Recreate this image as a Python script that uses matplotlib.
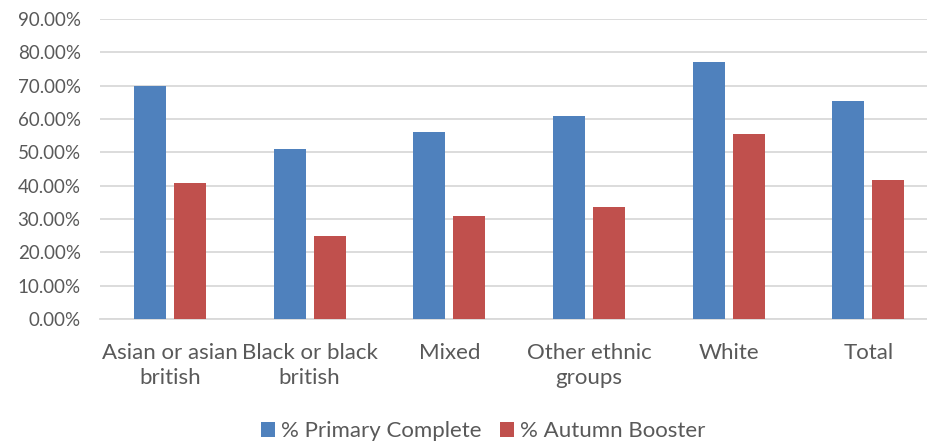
import numpy as np
import matplotlib.pyplot as plt
from matplotlib.ticker import PercentFormatter

categories = ['Asian or asian\nbritish', 'Black or black\nbritish', 'Mixed',
              'Other ethnic\ngroups', 'White', 'Total']
primary_complete = [69.8, 50.9, 56.0, 60.8, 77.0, 65.3]
autumn_booster = [40.7, 24.8, 30.8, 33.5, 55.4, 41.6]

plt.rcParams['font.family'] = ['Lato', 'DejaVu Sans']

fig = plt.figure(figsize=(9.27, 4.42), dpi=100)
ax = fig.add_axes([0.108, 0.278, 0.904, 0.679])

x = np.arange(len(categories))
width = 0.229
offset = 0.143
ax.bar(x - offset, primary_complete, width, color='#4F81BD', label='% Primary Complete', zorder=3)
ax.bar(x + offset, autumn_booster, width, color='#C0504D', label='% Autumn Booster', zorder=3)

ax.set_xlim(-0.5, len(categories) - 0.5)
ax.set_ylim(0, 90)
ax.set_yticks(np.arange(0, 91, 10))
ax.yaxis.set_major_formatter(PercentFormatter(decimals=2))
ax.set_xticks(x)
ax.set_xticklabels(categories, fontsize=16, linespacing=1.3)

ax.grid(axis='y', color='#d9d9d9', linewidth=1.3, zorder=0)
for side in ['left', 'right', 'top']:
    ax.spines[side].set_visible(False)
ax.spines['bottom'].set_color('#d9d9d9')
ax.spines['bottom'].set_linewidth(1.3)
ax.tick_params(axis='both', length=0, colors='#595959')
ax.tick_params(axis='x', pad=17)
ax.tick_params(axis='y', pad=14, labelsize=13.5)

fig.legend(loc='center', bbox_to_anchor=(0.521, 0.025), ncol=2, frameon=False,
           fontsize=16, labelcolor='#595959', handlelength=0.65, handleheight=0.65,
           handletextpad=0.25, columnspacing=0.85)

fig.savefig('out.png', dpi=100)
